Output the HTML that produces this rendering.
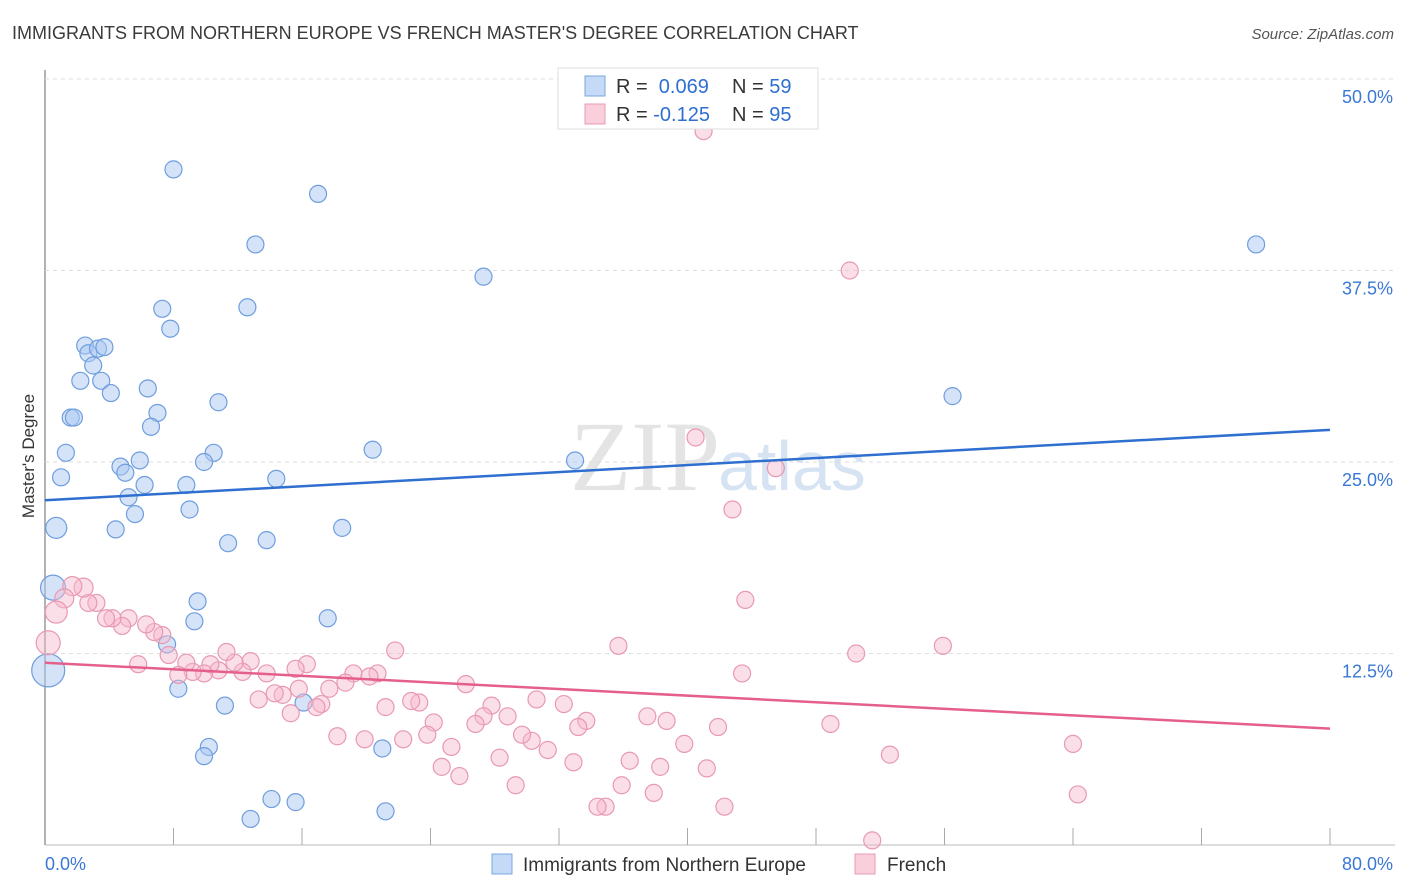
<!DOCTYPE html>
<html><head><meta charset="utf-8"><style>
body{margin:0;background:#fff;font-family:"Liberation Sans",sans-serif;}
svg{display:block}
</style></head><body>
<svg id="c" width="1406" height="892" xmlns="http://www.w3.org/2000/svg">
<text x="12" y="39" font-size="18" fill="#3a3a3a">IMMIGRANTS FROM NORTHERN EUROPE VS FRENCH MASTER'S DEGREE CORRELATION CHART</text>
<text x="1394" y="39" font-size="15" fill="#555" font-style="italic" text-anchor="end">Source: ZipAtlas.com</text>
<text x="720" y="490" font-size="100" fill="#e4e4e4" text-anchor="end" font-family="Liberation Serif,serif">ZIP</text>
<text x="718" y="490" font-size="70" fill="#d6e3f3">atlas</text>
<text transform="translate(34,456) rotate(-90)" font-size="17" fill="#333" text-anchor="middle">Master's Degree</text>
<g id="grid"></g><g id="pts"></g><g id="lines"></g>
<g>
<rect x="558" y="68" width="260" height="61" fill="#fff" stroke="#ddd"/>
<rect x="585" y="76" width="20" height="20" fill="#c5daf6" stroke="#7aa7e0"/>
<rect x="585" y="104" width="20" height="20" fill="#f9cfdc" stroke="#eb9ab4"/>
<text x="616" y="93" font-size="20" fill="#333">R = <tspan fill="#2e6fd1">&#160;0.069</tspan><tspan x="732">N = </tspan><tspan fill="#2e6fd1">59</tspan></text>
<text x="616" y="121" font-size="20" fill="#333">R = <tspan fill="#2e6fd1">-0.125</tspan><tspan x="732">N = </tspan><tspan fill="#2e6fd1">95</tspan></text>
</g>
<g>
<rect x="492" y="854" width="20" height="20" fill="#c5daf6" stroke="#7aa7e0"/>
<text x="523" y="871" font-size="19" fill="#333">Immigrants from Northern Europe</text>
<rect x="855" y="854" width="20" height="20" fill="#f9cfdc" stroke="#eb9ab4"/>
<text x="887" y="871" font-size="19" fill="#333">French</text>
</g>
</svg>
<script>
const yTicks=[12.5,25,37.5,50];
const yTickLabels=["12.5%","25.0%","37.5%","50.0%"];
const blueX=[8.0,17.0,13.1,27.3,75.4,7.3,12.6,7.8,2.5,2.7,3.3,3.7,3.0,2.2,3.5,4.1,6.4,10.8,1.6,1.8,7.0,6.6,1.3,10.5,9.9,4.7,5.9,5.0,5.2,6.2,8.8,1.0,14.4,20.4,33.0,56.5,0.7,4.4,5.6,9.0,11.4,13.8,18.5,0.5,9.5,9.3,17.6,7.6,8.3,11.2,16.1,0.2,10.2,9.9,21.0,14.1,15.6,12.8,21.2];
const blueY=[44.1,42.5,39.2,37.1,39.2,35.0,35.1,33.7,32.6,32.1,32.4,32.5,31.3,30.3,30.3,29.5,29.8,28.9,27.9,27.9,28.2,27.3,25.6,25.6,25.0,24.7,25.1,24.3,22.7,23.5,23.5,24.0,23.9,25.8,25.1,29.3,20.7,20.6,21.6,21.9,19.7,19.9,20.7,16.8,15.9,14.6,14.8,13.1,10.2,9.1,9.3,11.4,6.4,5.8,6.3,3.0,2.8,1.7,2.2];
const blueR=[8,8,8,8,8,8,8,8,8,8,8,8,8,8,8,8,8,8,8,8,8,8,8,8,8,8,8,8,8,8,8,8,8,8,8,8,10,8,8,8,8,8,8,12,8,8,8,8,8,8,8,16,8,8,8,8,8,8,8];
const pinkX=[41.0,50.1,40.5,45.5,42.8,43.6,50.5,55.9,64.0,64.3,51.5,52.6,48.9,43.4,41.9,41.2,42.3,39.8,38.7,38.3,37.9,37.5,36.4,35.9,35.7,34.9,34.4,33.7,33.2,32.9,32.3,31.3,30.6,30.3,29.7,29.3,28.8,28.3,27.8,27.3,26.8,26.2,25.8,25.3,24.7,24.2,23.8,23.3,22.8,22.3,21.8,21.2,20.7,20.2,19.9,19.2,18.7,18.2,17.7,17.2,16.9,16.3,15.8,15.3,14.8,14.3,13.8,13.3,12.8,12.3,11.8,11.3,10.8,10.3,9.9,9.2,8.8,8.3,7.7,7.3,6.8,6.3,5.8,5.2,4.8,4.2,3.8,3.2,2.7,2.4,1.7,1.2,0.7,0.2,15.6];
const pinkY=[46.6,37.5,26.6,24.6,21.9,16.0,12.5,13.0,6.6,3.3,0.3,5.9,7.9,11.2,7.7,5.0,2.5,6.6,8.1,5.1,3.4,8.4,5.5,3.9,13.0,2.5,2.5,8.1,7.7,5.4,9.2,6.2,9.5,6.8,7.2,3.9,8.4,5.7,9.1,8.4,7.9,10.5,4.5,6.4,5.1,8.0,7.2,9.3,9.4,6.9,12.7,9.0,11.2,11.0,6.9,11.2,10.6,7.1,10.2,9.2,9.0,11.8,10.2,8.6,9.8,9.9,11.2,9.5,12.0,11.3,11.9,12.6,11.4,11.8,11.2,11.3,11.9,11.1,12.4,13.7,13.9,14.4,11.8,14.8,14.3,14.8,14.8,15.8,15.8,16.8,16.9,16.1,15.2,13.2,11.5,7.9,8.6];
const trendBlue=[22.5,27.1],trendPink=[11.9,7.6];
const X=v=>45+v*1285/80, Y=v=>845-v*766/50;
const NS="http://www.w3.org/2000/svg";
function mk(t,a,p){const e=document.createElementNS(NS,t);for(const k in a)e.setAttribute(k,a[k]);p.appendChild(e);return e;}
function pinkRadius(i){const px=X(pinkX[i]),py=Y(pinkY[i]);
 if(px<70&&py>630&&py<655)return 12;
 if(px<78&&py>600&&py<620)return 11;
 if(px<100&&py>575&&py<600)return 9.5;
 return 8.5;}
const g=document.getElementById('grid');
mk('line',{x1:45,y1:70,x2:45,y2:845,stroke:'#999','stroke-width':1.5},g);
const ax=mk('line',{x1:45,y1:845,x2:1395,y2:845,stroke:'#bbb'},g);

yTicks.forEach((v,i)=>{
 const l=mk('line',{x1:45,y1:Y(v),x2:1395,y2:Y(v),stroke:'#ddd','stroke-dasharray':'4,4'},g);
 
 const t=mk('text',{x:1393,y:Y(v)+24,'font-size':18,fill:'#3a78d6','text-anchor':'end'},g);
 t.textContent=yTickLabels[i];
 
 
});
for(let i=1;i<=10;i++){const t=mk('line',{x1:X(i*8),y1:828,x2:X(i*8),y2:845,stroke:'#aaa'},g);}
const xl=mk('text',{x:45,y:870,'font-size':18,fill:'#3a78d6'},g);xl.textContent='0.0%';

const xr=mk('text',{x:1393,y:870,'font-size':18,fill:'#3a78d6','text-anchor':'end'},g);xr.textContent='80.0%';

const p=document.getElementById('pts');
blueX.forEach((v,i)=>{const c=mk('circle',{cx:X(v),cy:Y(blueY[i]),r:blueR[i]+0.5,fill:'rgba(170,200,242,0.5)',stroke:'#6f9ede','stroke-width':1.2},p);

});
pinkX.forEach((v,i)=>{const c=mk('circle',{cx:X(v),cy:Y(pinkY[i]),r:pinkRadius(i),fill:'rgba(246,184,204,0.45)',stroke:'#e899b2','stroke-width':1.2},p);

});
const L=document.getElementById('lines');
const lb=mk('line',{x1:X(0),y1:Y(trendBlue[0]),x2:X(80),y2:Y(trendBlue[1]),stroke:'#2f6fd0','stroke-width':2.5},L);

const lp=mk('line',{x1:X(0),y1:Y(trendPink[0]),x2:X(80),y2:Y(trendPink[1]),stroke:'#e55f8c','stroke-width':2.5},L);

</script>
</body></html>
